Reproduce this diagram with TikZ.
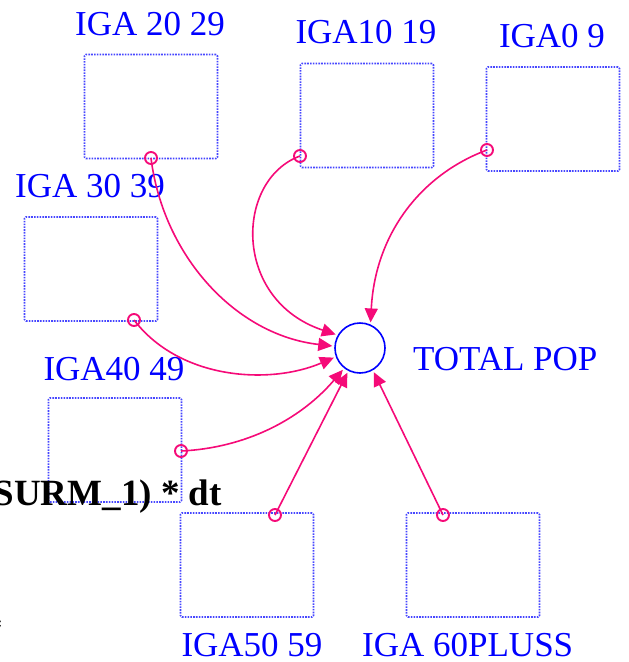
\documentclass[tikz,border=0pt]{standalone}
\usepackage{fontspec}
\setmainfont{Liberation Serif}
\usetikzlibrary{arrows.meta}
\definecolor{stockblue}{RGB}{70,70,255}
\definecolor{labelblue}{RGB}{0,0,255}
\definecolor{linkpink}{RGB}{245,10,120}
\tikzset{
  stock/.style={draw=stockblue, line width=1.7pt, dash pattern=on 1.6pt off 1.2pt,
    rounded corners=1.5pt, minimum width=133pt, minimum height=104pt, inner sep=0pt},
  lbl/.style={text=labelblue, font=\fontsize{35}{35}\selectfont, inner sep=0pt},
  eqtext/.style={text=black, font=\fontsize{37}{37}\selectfont\bfseries, inner sep=0pt},
  aux/.style={draw=labelblue, line width=1.6pt, circle, minimum size=50pt, inner sep=0pt},
  link/.style={draw=linkpink, line width=1.6pt, shorten >=2pt,
    -{Triangle[length=14pt,width=13pt]}},
  tap/.style={draw=linkpink, line width=1.9pt}
}
\begin{document}
\begin{tikzpicture}[x=1pt,y=-1pt]
\useasboundingbox (0,0) rectangle (629,662);
\clip (0,0) rectangle (629,662);

% stocks
\node[stock] (b20) at (151,106.5) {};
\node[stock] (b10) at (367,115.5) {};
\node[stock] (b0)  at (553,119) {};
\node[stock] (b30) at (91,269) {};
\node[stock] (b40) at (115,450) {};
\node[stock] (b50) at (247,565) {};
\node[stock] (b60) at (473,565) {};

% stock names
\node[lbl, anchor=base] (n20) at (150,35) {IGA 20 29};
\node[lbl, anchor=base] (n10) at (366,43) {IGA10 19};
\node[lbl, anchor=base] (n0)  at (552,47) {IGA0 9};
\node[lbl, anchor=base] (n30) at (90,197) {IGA 30 39};
\node[lbl, anchor=base] (n40) at (114,380) {IGA40 49};
\node[lbl, anchor=base] (n50) at (252,656) {IGA50 59};
\node[lbl, anchor=base west] (n60) at (362,656) {IGA 60PLUSS};

% auxiliary
\node[aux] (tp) at (360,348) {};
\node[lbl, anchor=base west] (ntp) at (413,370) {TOTAL POP};

% equation fragments
\node[eqtext, anchor=base east] (eq) at (222,505) {SURM\_1) * dt};
\node[eqtext, anchor=base east] (eq2) at (3,641) {*};

% connector taps
\coordinate (s20) at (151,158);
\coordinate (s10) at (300,156);
\coordinate (s0)  at (487,150);
\coordinate (s30) at (134,320);
\coordinate (s40) at (181,451);
\coordinate (s50) at (275,515);
\coordinate (s60) at (443,515);

% connectors
\draw[link] (s20) .. controls (163,255) and (235,335) .. (tp.176);
\draw[link] (s10) .. controls (235,180) and (232,300) .. (tp.150);
\draw[link] (s0)  .. controls (420,175) and (375,235) .. (tp.66);
\draw[link] (s30) .. controls (180,380) and (270,385) .. (tp.200);
\draw[link] (s40) .. controls (245,448) and (300,420) .. (tp.232);
\draw[link] (s50) -- (tp.243);
\draw[link] (s60) -- (tp.300);

\foreach \s in {s20,s10,s0,s30,s40,s50,s60}
  \draw[tap] (\s) circle (6pt);
\end{tikzpicture}
\end{document}
